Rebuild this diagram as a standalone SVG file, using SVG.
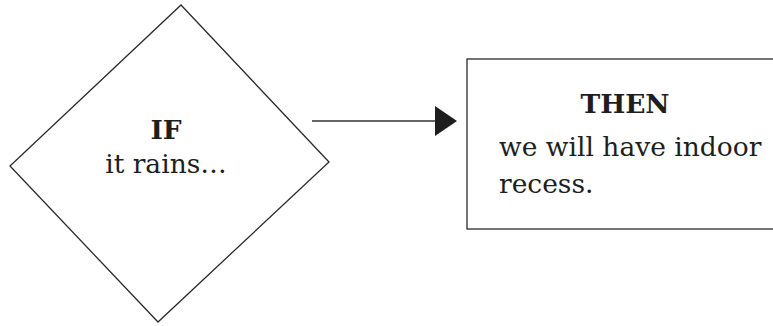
<svg xmlns="http://www.w3.org/2000/svg" width="773" height="326" viewBox="0 0 773 326">
  <style>
    .shape { fill: #ffffff; stroke: #2a2a2a; stroke-width: 1.3; }
    .head { font-family: "DejaVu Serif", "Liberation Serif", serif; font-weight: bold; font-size: 26.5px; fill: #1e1e1e; }
    .body { font-family: "DejaVu Serif", "Liberation Serif", serif; font-size: 26.5px; fill: #1e1e1e; }
    .conn { stroke: #333333; stroke-width: 1.3; fill: none; }
  </style>
  <defs>
    <marker id="arrow" viewBox="0 0 22 30" refX="0" refY="15" markerWidth="22" markerHeight="30" markerUnits="userSpaceOnUse" orient="auto">
      <path d="M0,0 L22,15 L0,30 Z" fill="#1e1e1e"/>
    </marker>
  </defs>
  <rect width="773" height="326" fill="#ffffff"/>

  <g id="decision">
    <polygon class="shape" points="181,5 329,162 158,322 10,166"/>
    <text class="head" x="166" y="139" text-anchor="middle">IF</text>
    <text class="body" x="166" y="173" text-anchor="middle">it rains…</text>
  </g>

  <g id="outcome">
    <rect class="shape" x="467" y="59" width="320" height="170"/>
    <text class="head" x="625" y="113" text-anchor="middle">THEN</text>
    <text class="body" x="499" y="156">we will have indoor</text>
    <text class="body" x="499" y="193">recess.</text>
  </g>

  <g id="connectors">
    <line class="conn" x1="312" y1="121" x2="435" y2="121" marker-end="url(#arrow)"/>
  </g>
</svg>
